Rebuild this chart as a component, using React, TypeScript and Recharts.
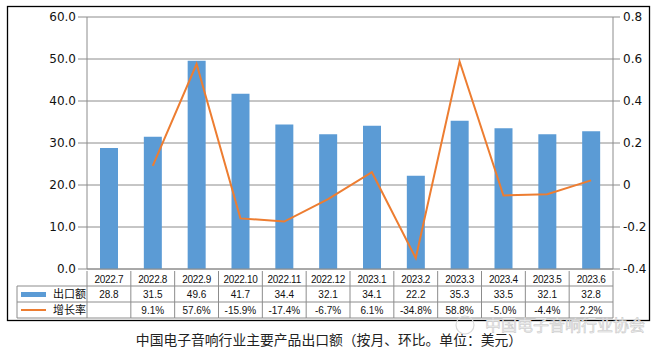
import { ComposedChart, Bar, Line, XAxis, YAxis, CartesianGrid } from "recharts"

const months = ["2022.7", "2022.8", "2022.9", "2022.10", "2022.11", "2022.12", "2023.1", "2023.2", "2023.3", "2023.4", "2023.5", "2023.6"]
const exportValues = [28.8, 31.5, 49.6, 41.7, 34.4, 32.1, 34.1, 22.2, 35.3, 33.5, 32.1, 32.8]
const growthPct = [null, 9.1, 57.6, -15.9, -17.4, -6.7, 6.1, -34.8, 58.8, -5.0, -4.4, 2.2]
const leftTicks = [0, 10, 20, 30, 40, 50, 60]
const rightTicks = [-0.4, -0.2, 0, 0.2, 0.4, 0.6, 0.8]

const data = months.map((m, i) => ({
  month: m,
  value: exportValues[i],
  rate: growthPct[i] == null ? null : (growthPct[i] as number) / 100,
}))

const GRID = "#8c8c8c"
const BLUE = "#5b9bd5"
const ORANGE = "#ed7d31"
const FONT = "'Liberation Sans', 'Noto Sans CJK SC', sans-serif"

const PLOT_LEFT = 87
const PLOT_RIGHT = 613
const BAND = (PLOT_RIGHT - PLOT_LEFT) / months.length

// table row lines under the x axis
const ROW1 = 286
const ROW2 = 302
const ROW3 = 318

function TableTick(props: any) {
  const { x, y, payload, index } = props
  const i = index as number
  const left = x - BAND / 2
  const right = x + BAND / 2
  const top = y
  const pct = growthPct[i]
  return (
    <g>
      {i === 0 && <line x1={left} y1={top} x2={left} y2={ROW3} stroke={GRID} />}
      <line x1={right} y1={top} x2={right} y2={ROW3} stroke={GRID} />
      <line x1={left} y1={ROW1} x2={right} y2={ROW1} stroke={GRID} />
      <line x1={left} y1={ROW2} x2={right} y2={ROW2} stroke={GRID} />
      <line x1={left} y1={ROW3} x2={right} y2={ROW3} stroke={GRID} />
      <text x={x} y={top + 12} textAnchor="middle" fontSize={10} fontFamily={FONT} fill="#111" letterSpacing={-0.3}>
        {payload.value}
      </text>
      <text x={x} y={ROW1 + 12} textAnchor="middle" fontSize={10} fontFamily={FONT} fill="#111">
        {exportValues[i].toFixed(1)}
      </text>
      {pct != null && (
        <text x={x} y={ROW2 + 12} textAnchor="middle" fontSize={10} fontFamily={FONT} fill="#111">
          {pct.toFixed(1) + "%"}
        </text>
      )}
    </g>
  )
}

export default function App() {
  return (
    <div style={{ position: "absolute", left: 0, top: 0, width: 665, height: 355, background: "#fff" }}>
      <ComposedChart
        width={665}
        height={355}
        data={data}
        margin={{ top: 17, left: 27, right: 12, bottom: 69 }}
      >
        <CartesianGrid vertical={false} stroke={GRID} yAxisId="left" />
        <XAxis
          dataKey="month"
          height={17}
          interval={0}
          axisLine={{ stroke: GRID }}
          tickLine={false}
          tickSize={0}
          tick={(p: any) => <TableTick {...p} />}
        />
        <YAxis
          yAxisId="left"
          width={60}
          domain={[0, 60]}
          ticks={leftTicks}
          tickFormatter={(v: number) => v.toFixed(1)}
          axisLine={{ stroke: GRID }}
          tickLine={{ stroke: GRID }}
          tickSize={9}
          tickMargin={2}
          tick={{ fill: "#111", fontSize: 12, fontFamily: "'DejaVu Sans', sans-serif" }}
        />
        <YAxis
          yAxisId="right"
          orientation="right"
          width={40}
          domain={[-0.4, 0.8]}
          ticks={rightTicks}
          tickFormatter={(v: number) => (v === 0 ? "0" : v.toFixed(1))}
          axisLine={{ stroke: GRID }}
          tickLine={{ stroke: GRID }}
          tickSize={7}
          tickMargin={3}
          tick={{ fill: "#111", fontSize: 12, fontFamily: "'DejaVu Sans', sans-serif" }}
        />
        <Bar yAxisId="left" dataKey="value" fill={BLUE} barSize={18} isAnimationActive={false} />
        <Line
          yAxisId="right"
          dataKey="rate"
          stroke={ORANGE}
          strokeWidth={2}
          dot={false}
          type="linear"
          isAnimationActive={false}
        />
      </ComposedChart>
      <svg width={665} height={355} style={{ position: "absolute", left: 0, top: 0, pointerEvents: "none" }}>
        {/* outer frame */}
        <rect x={7.5} y={6.5} width={642} height={314} fill="none" stroke="#000" strokeWidth={1.3} />
        {/* legend column of the data table */}
        <line x1={17} y1={ROW1} x2={PLOT_LEFT} y2={ROW1} stroke={GRID} />
        <line x1={17} y1={ROW2} x2={PLOT_LEFT} y2={ROW2} stroke={GRID} />
        <line x1={17} y1={ROW3} x2={PLOT_LEFT} y2={ROW3} stroke={GRID} />
        <line x1={17} y1={ROW1} x2={17} y2={ROW3} stroke={GRID} />
        <rect x={21} y={292} width={25} height={5} fill={BLUE} />
        <text x={53} y={298} fontSize={11} fontFamily={FONT} fill="#111">出口额</text>
        <line x1={21} y1={310} x2={46} y2={310} stroke={ORANGE} strokeWidth={2} />
        <text x={53} y={314} fontSize={11} fontFamily={FONT} fill="#111">增长率</text>
        {/* title */}
        <text x={329} y={345} textAnchor="middle" fontSize={13.8} fontFamily={FONT} fill="#222">
          中国电子音响行业主要产品出口额（按月、环比。单位：美元）
        </text>
        {/* watermark */}
        <circle cx={465} cy={325} r={9} fill="none" stroke="#dadada" strokeWidth={1.2} />
        <text x={485} y={331} fontSize={16} fontFamily={FONT} fill="#f2f2f2" stroke="#c4c4c4" strokeWidth={0.5}>
          中国电子音响行业协会
        </text>
      </svg>
    </div>
  )
}
